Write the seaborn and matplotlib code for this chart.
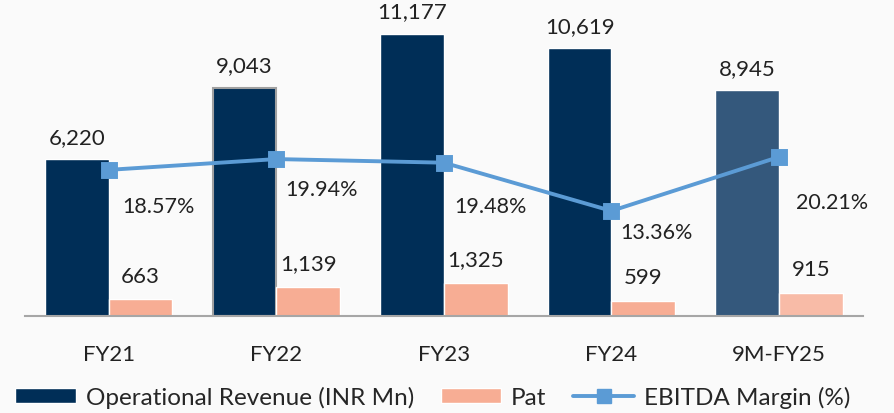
import matplotlib
matplotlib.use("Agg")
import matplotlib.pyplot as plt
import seaborn as sns
import pandas as pd
from matplotlib.patches import Patch
from matplotlib.lines import Line2D

years = ["FY21", "FY22", "FY23", "FY24", "9M-FY25"]
revenue = [6220, 9043, 11177, 10619, 8945]
pat = [663, 1139, 1325, 599, 915]
ebitda_margin = [18.57, 19.94, 19.48, 13.36, 20.21]

navy = "#002E57"
navy_light = "#34587C"
salmon = "#F7AD94"
salmon_light = "#F8BBA7"
blue = "#5B9BD5"

sns.set_theme(style="white")
plt.rcParams["font.family"] = ["Lato", "DejaVu Sans"]

df = pd.DataFrame({
    "year": years * 2,
    "value": revenue + pat,
    "series": ["Operational Revenue (INR Mn)"] * 5 + ["Pat"] * 5,
})

fig, ax = plt.subplots(figsize=(8.94, 4.14), dpi=100)
fig.patch.set_facecolor("#FAFAFA")
ax.set_facecolor("#FAFAFA")
fig.subplots_adjust(left=0.028, right=0.965, bottom=0.234, top=0.995)

sns.barplot(data=df, x="year", y="value", hue="series",
            palette=[navy, salmon], width=0.76, saturation=1,
            legend=False, ax=ax)

rev_bars = ax.containers[0]
pat_bars = ax.containers[1]
rev_bars[4].set_facecolor(navy_light)
pat_bars[4].set_facecolor(salmon_light)
rev_bars[1].set_edgecolor("#A0A0A0")
rev_bars[1].set_linewidth(1.5)

ax.bar_label(rev_bars, labels=[f"{v:,}" for v in revenue], padding=9,
             fontsize=16, color="#222222")
ax.bar_label(pat_bars, labels=[f"{v:,}" for v in pat], padding=10,
             fontsize=16, color="#222222")

ax.set_ylim(0, 12485)
ax.set_xlim(-0.5, 4.5)
ax.set_xlabel("")
ax.set_ylabel("")
ax.set_yticks([])
for s in ["top", "left", "right"]:
    ax.spines[s].set_visible(False)
ax.spines["bottom"].set_color("#A6A6A6")
ax.spines["bottom"].set_linewidth(1.5)
ax.tick_params(axis="x", length=0, pad=20, labelsize=16, labelcolor="#222222")

ax2 = ax.twinx()
sns.pointplot(x=years, y=ebitda_margin, color=blue, markers="s",
              linewidth=2.8, markersize=10, ax=ax2)
ax2.set_ylim(0, 40)
ax2.set_xlim(-0.5, 4.5)
ax2.set_yticks([])
for s in ax2.spines.values():
    s.set_visible(False)

# label offsets in pixels from each margin point
offsets = [(50, -36), (45, -30), (47, -43), (45, -21), (53, -45)]
for i, (v, off) in enumerate(zip(ebitda_margin, offsets)):
    ax2.annotate(f"{v:.2f}%", (i, v), xytext=off, textcoords="offset pixels",
                 ha="center", va="center", fontsize=15.5, color="#222222")

handles = [
    Patch(facecolor=navy, label="Operational Revenue (INR Mn)"),
    Patch(facecolor=salmon, label="Pat"),
    Line2D([0], [0], color=blue, lw=2.8, marker="s", markersize=10,
           label="EBITDA Margin (%)"),
]
fig.legend(handles=handles, loc="center", bbox_to_anchor=(0.484, 0.038),
           ncol=3, frameon=False, fontsize=17.5, handlelength=2.5,
           handleheight=0.6, columnspacing=1.1, handletextpad=0.4)

fig.savefig("out.png", dpi=100, facecolor=fig.get_facecolor())
